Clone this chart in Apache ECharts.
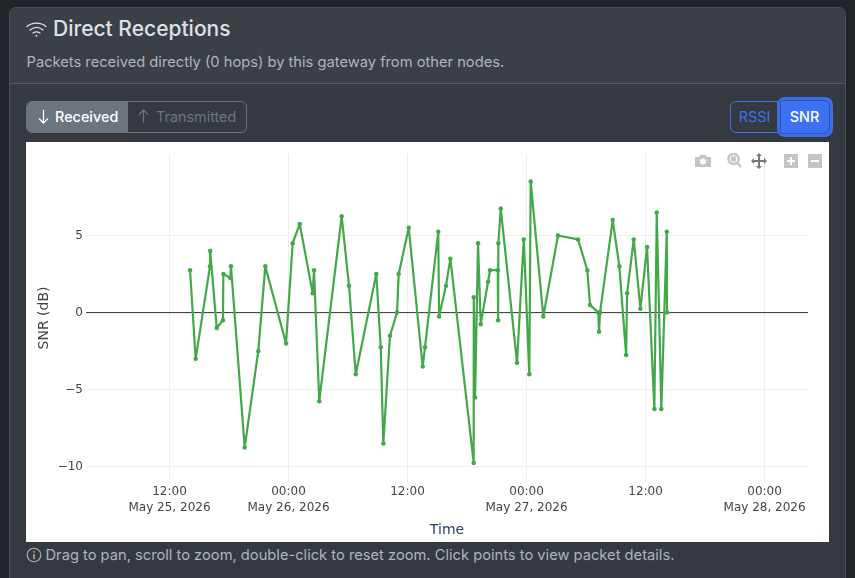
<!DOCTYPE html>
<html><head><meta charset="utf-8">
<script src="https://cdn.jsdelivr.net/npm/echarts@6/dist/echarts.min.js"></script>
<style>
html,body{margin:0;padding:0;width:855px;height:578px;overflow:hidden;background:#212529;font-family:Inter,"Noto Sans",sans-serif}
.abs{position:absolute;white-space:nowrap;box-sizing:border-box}
#card{left:9px;top:7px;width:837px;height:580px;background:#343a40;border:1px solid #495057;border-radius:7px;overflow:hidden}
#head{left:0;top:0;width:835px;height:76px;background:#3b3f46;border-bottom:1px solid #555b61}
#chart{position:absolute;left:26px;top:142px;width:803px;height:400px;background:#fff}
</style></head><body>
<div class="abs" id="card"><div class="abs" id="head"></div></div>
<svg class="abs" style="left:26px;top:19px" width="22" height="20" viewBox="0 0 22 20" fill="none" stroke="#dee2e6" stroke-width="1.3" stroke-linecap="round">
<path d="M1 7.5C6 3 15 3 20 7.5"/><path d="M4 11C8 7.8 13 7.8 17 11"/><path d="M7 14C9.3 12.5 11.7 12.5 14 14"/><circle cx="10.5" cy="16.8" r="1" fill="#dee2e6" stroke="none"/></svg>
<div class="abs" style="left:53px;top:16px;font-size:21px;line-height:26px;font-weight:500;color:#dee2e6">Direct Receptions</div>
<div class="abs" style="left:26.5px;top:52px;font-size:14.7px;line-height:20px;color:#adb5bd">Packets received directly (0 hops) by this gateway from other nodes.</div>
<div class="abs" style="left:26px;top:101px;width:221px;height:32px;border:1px solid #6c757d;border-radius:6px;overflow:hidden;background:#343a40">
 <div class="abs" style="left:0;top:0;width:101px;height:30px;background:#6c757d"></div>
</div>
<svg class="abs" style="left:37px;top:108px" width="13" height="18" fill="none" stroke="#fff" stroke-width="1.3"><path d="M6.5 2V15M2 10.5L6.5 15L11 10.5"/></svg>
<div class="abs" style="left:55px;top:107px;font-size:14.4px;line-height:20px;font-weight:500;color:#fff">Received</div>
<svg class="abs" style="left:137px;top:108px" width="13" height="18" fill="none" stroke="#6c757d" stroke-width="1.3"><path d="M6.5 15V2M2 6.5L6.5 2L11 6.5"/></svg>
<div class="abs" style="left:156px;top:107px;font-size:14.4px;line-height:20px;color:#6c757d">Transmitted</div>
<div class="abs" style="left:730px;top:101px;width:54px;height:32px;border:1px solid #3b71f3;border-radius:6px 0 0 6px;text-align:center;font-size:14.4px;line-height:30px;color:#3b71f3;padding-right:5px">RSSI</div>
<div class="abs" style="left:777px;top:97px;width:56px;height:40px;background:#3b6fe8;border-radius:8px"></div>
<div class="abs" style="left:780px;top:100px;width:50px;height:34px;background:#3b71f3;border:1px solid #2c55b5;border-radius:0 6px 6px 0;text-align:center;font-size:14.4px;line-height:32px;color:#fff;font-weight:500;padding-right:1px">SNR</div>
<div id="chart"></div>
<svg class="abs" style="left:694px;top:152px" width="130" height="18" fill="#c4c4c4">
 <path d="M1 5H5L6.5 3H11.500L13 5H17V15H1Z"/><circle cx="9" cy="9.500" r="3" fill="#fff"/>
 <circle cx="39.500" cy="7" r="5" fill="none" stroke="#c4c4c4" stroke-width="2.500"/><rect x="37" y="4.500" width="5" height="5" fill="#c4c4c4"/><path d="M43 10.500L47 15" stroke="#c4c4c4" stroke-width="2.500"/>
 <path d="M65 1L68 4H66V8H70V6L73 9L70 12V10H66V14H68L65 17L62 14H64V10H60V12L57 9L60 6V8H64V4H62Z" fill="#777"/>
 <rect x="90" y="2" width="14" height="14"/><path d="M97 5V13M93 9H101" stroke="#fff" stroke-width="2"/>
 <rect x="114" y="2" width="14" height="14"/><path d="M117 9H125" stroke="#fff" stroke-width="2"/>
</svg>
<svg class="abs" style="left:26px;top:547px" width="16" height="16" fill="none" stroke="#adb5bd" stroke-width="1.100"><circle cx="8" cy="8" r="6.800"/><path d="M8 7V12" stroke-width="1.500"/><circle cx="8" cy="4.800" r="0.900" fill="#adb5bd" stroke="none"/></svg>
<div class="abs" style="left:45.500px;top:545px;font-size:14.7px;line-height:20px;color:#adb5bd">Drag to pan, scroll to zoom, double-click to reset zoom. Click points to view packet details.</div>
<script>
// Hours since 2026-05-25 00:00
const hours = [14.07,14.64,16.08,16.1,16.76,17.39,17.43,18.13,18.2,19.58,20.95,21.66,23.75,24.42,25.13,26.44,26.57,27.1,29.36,30.1,30.78,32.85,33.3,33.56,34.23,34.94,35.11,36.12,37.53,37.76,39.1,39.18,39.88,40.32,42.67,42.68,42.81,43.11,43.38,44.12,44.32,45.1,45.13,45.16,45.4,47.04,47.72,48.28,48.42,49.69,51.17,53.19,54.13,54.4,55.24,55.31,55.41,56.69,57.36,58.04,58.14,58.81,59.48,60.15,60.89,61.13,61.59,62.14,62.17];
const snr = [2.75,-3,3,4,-1,-0.5,2.5,2.25,3,-8.75,-2.5,3,-2,4.5,5.75,1.25,2.75,-5.75,6.25,1.75,-4,2.5,-2.25,-8.5,-1.5,0,2.5,5.5,-3.5,-2.25,5.25,-0.25,1.75,3.5,-9.75,1,-5.5,4.5,-0.75,2,2.75,2.75,-0.5,4.5,6.75,-3.25,4.75,-4,8.5,-0.25,5,4.75,2.75,0.5,0,-1.25,0,6,3,-2.75,1.25,4.75,0.25,4.25,-6.25,6.5,-6.25,5.25,0];
const xTickHours = [12,24,36,48,60,72];
const xTickLabels = ['12:00\nMay 25, 2026','00:00\nMay 26, 2026','12:00','00:00\nMay 27, 2026','12:00','00:00\nMay 28, 2026'];
const yTicks = [-10,-5,0,5];
const xRange = [3.58,76.38];
const yRange = [-10.99,10.29];
const zeroLine = [[xRange[0],0],[xRange[1],0]];

const chart = echarts.init(document.getElementById('chart'),null,{renderer:'canvas'});
const font = 'DejaVu Sans';
chart.setOption({
  animation:false,
  grid:{left:60,right:21,top:12,bottom:60,containLabel:false,outerBoundsMode:'none'},
  xAxis:{type:'value',min:xRange[0],max:xRange[1],
    name:'Time',nameLocation:'middle',nameGap:41.5,nameMoveOverlap:false,nameTextStyle:{fontFamily:font,fontSize:14,color:'#2a3f5f'},
    axisLine:{show:false},
    axisTick:{show:false,customValues:xTickHours},
    splitLine:{show:true,lineStyle:{color:'#eeeeee',width:1}},
    axisLabel:{customValues:xTickHours,fontFamily:font,fontSize:12,color:'#444',lineHeight:16,margin:2,
      formatter:v=>xTickLabels[xTickHours.indexOf(v)]}},
  yAxis:{type:'value',min:yRange[0],max:yRange[1],
    name:'SNR (dB)',nameLocation:'middle',nameGap:35,nameMoveOverlap:false,nameRotate:90,nameTextStyle:{fontFamily:font,fontSize:14,color:'#444'},
    axisLine:{show:false},
    axisTick:{show:false,customValues:yTicks},
    splitLine:{show:true,lineStyle:{color:'#eeeeee',width:1}},
    axisLabel:{customValues:yTicks,fontFamily:font,fontSize:12,color:'#444',margin:3,
      formatter:v=>String(v).replace('-','\u2212')}},
  series:[
    {type:'line',data:zeroLine,symbol:'none',silent:true,z:1,lineStyle:{color:'#333',width:1}},
    {type:'line',data:hours.map((h,i)=>[h,snr[i]]),symbol:'circle',symbolSize:4.5,z:2,
      lineStyle:{color:'#43a84a',width:2.2},itemStyle:{color:'#43a84a'}}
  ]
});
</script>
</body></html>
